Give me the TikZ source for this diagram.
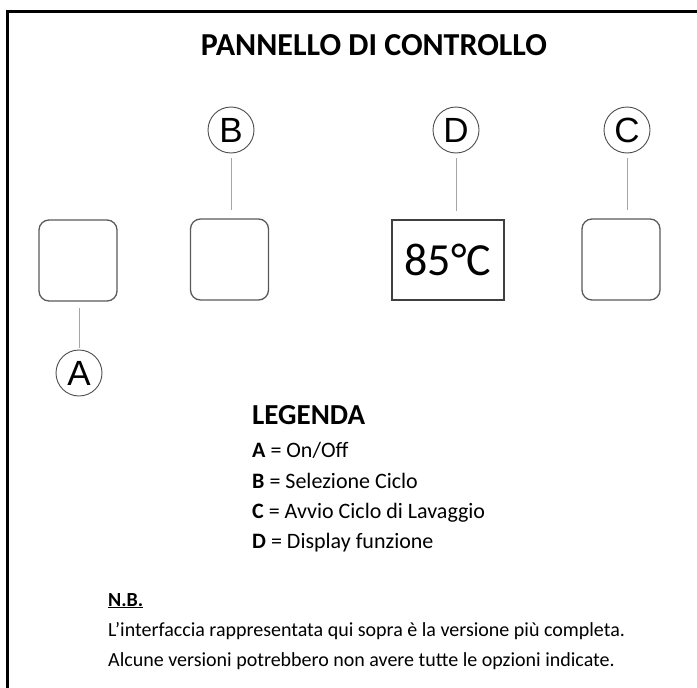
\documentclass[tikz,border=0pt]{standalone}
\usepackage{fontspec}
\setmainfont{Carlito}
\newfontfamily\lettera{Liberation Sans}
\usetikzlibrary{positioning}
\begin{document}
\begin{tikzpicture}[x=1pt, y=-1pt, every node/.style={inner sep=0pt},
  tasto/.style={draw=black!65, line width=1.3pt, rounded corners=10pt, minimum width=78pt, minimum height=81pt},
  schermo/.style={draw=black!75, line width=1.3pt, minimum width=112pt, minimum height=80pt, font=\fontsize{46}{50}\selectfont},
  sigla/.style={circle, draw=black!70, line width=0.9pt, minimum size=46pt, font=\lettera\fontsize{35}{35}\selectfont},
  filo/.style={draw=black!35, line width=0.8pt, shorten <=5pt, shorten >=8pt},
  voce/.style={anchor=base west, font=\fontsize{22}{24}\selectfont},
  nota/.style={anchor=base west, font=\fontsize{20}{22}\selectfont}]
\useasboundingbox (0,0) rectangle (697,688);
\draw[line width=3pt] (7,700) -- (7,11) -- (710,11);
\node[font=\bfseries\fontsize{32}{34}\selectfont] (titolo) at (374,45) {PANNELLO DI CONTROLLO};
% tasti e display
\node[tasto] (tA) at (78,260.5) {};
\node[tasto] (tB) at (229.5,259.5) {};
\node[schermo] (tD) at (448,260) {85°C};
\node[tasto] (tC) at (621,259.5) {};
% sigle
\node[sigla] (sB) at (231,130) {B};
\node[sigla] (sD) at (456,130) {D};
\node[sigla] (sC) at (627,130) {C};
\node[sigla] (sA) at (79,373) {A};
\draw[filo] (sB) -- (sB |- tB.north);
\draw[filo] (sD) -- (sD |- tD.north);
\draw[filo] (sC) -- (sC |- tC.north);
\draw[filo, shorten <=2pt, shorten >=6pt] (sA) -- (sA |- tA.south);
% legenda
\node[anchor=base west, font=\bfseries\fontsize{29}{30}\selectfont] (leg) at (252,424) {LEGENDA};
\node[voce] (vA) at (252,457) {\textbf{A} = On/Off};
\node[voce] (vB) at (252,488) {\textbf{B} = Selezione Ciclo};
\node[voce] (vC) at (252,518) {\textbf{C} = Avvio Ciclo di Lavaggio};
\node[voce] (vD) at (252,548) {\textbf{D} = Display funzione};
% nota
\node[nota, font=\bfseries\fontsize{20}{22}\selectfont] (nb) at (108,606) {\underline{N.B.}};
\node[nota] (n1) at (108,636) {L’interfaccia rappresentata qui sopra è la versione più completa.};
\node[nota] (n2) at (108,666) {Alcune versioni potrebbero non avere tutte le opzioni indicate.};
\end{tikzpicture}
\end{document}
